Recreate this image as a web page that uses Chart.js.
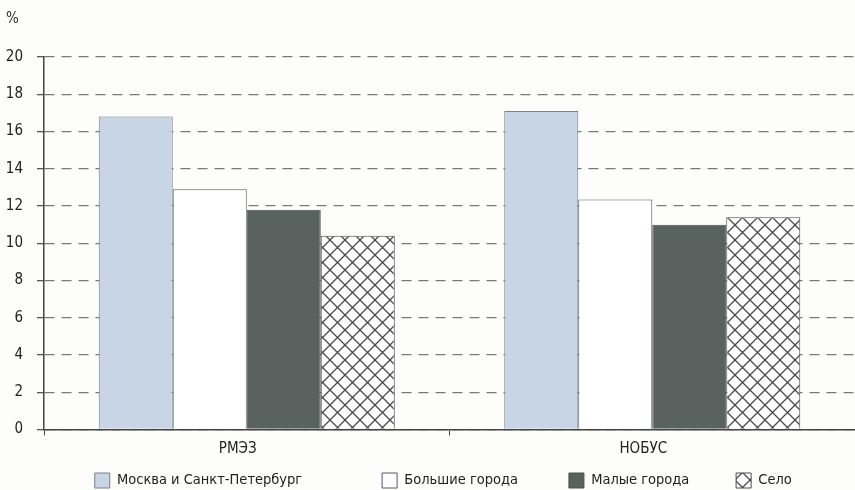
<!DOCTYPE html>
<html>
<head>
<meta charset="utf-8">
<style>
  html, body { margin: 0; padding: 0; background: #fdfdfb; }
  #wrap { width: 855px; height: 490px; }
</style>
</head>
<body>
<div id="wrap"><canvas id="myChart" width="855" height="490"></canvas></div>
<script src="https://cdn.jsdelivr.net/npm/chart.js@4.4.2/dist/chart.umd.min.js"></script>
<script>
// categories and series
const categories = ['РМЭЗ', 'НОБУС'];
const seriesNames = ['Москва и Санкт-Петербург', 'Большие города', 'Малые города', 'Село'];
const moscowSpb = [16.8, 17.1];
const bigCities = [12.9, 12.35];
const smallCities = [11.8, 11.0];
const village = [10.4, 11.4];
const yTicks = [0, 2, 4, 6, 8, 10, 12, 14, 16, 18, 20];

// extra space after each legend entry (the gaps are not even in the original)
const legendGaps = [17, 10, 9, 3];

const FONT = '"Liberation Sans Narrow", "DejaVu Sans Condensed", "Liberation Sans", sans-serif';

// crosshatch fill for "Село"
function hatchPattern() {
    const size = 15;
    const c = document.createElement('canvas');
    c.width = size;
    c.height = size;
    const g = c.getContext('2d');
    g.fillStyle = '#ffffff';
    g.fillRect(0, 0, size, size);
    g.strokeStyle = '#4a4a4a';
    g.lineWidth = 1.3;
    g.beginPath();
    g.moveTo(0, 0); g.lineTo(size, size);
    g.moveTo(size, 0); g.lineTo(0, size);
    g.stroke();
    return g.createPattern(c, 'repeat');
}
const hatch = hatchPattern();

const data = {
    labels: categories,
    datasets: [
        { label: seriesNames[0], data: moscowSpb, backgroundColor: '#c8d5e5', borderColor: '#7d8188', borderWidth: 1 },
        { label: seriesNames[1], data: bigCities, backgroundColor: '#ffffff', borderColor: '#55595e', borderWidth: 1 },
        { label: seriesNames[2], data: smallCities, backgroundColor: '#59625e', borderColor: '#4a514e', borderWidth: 1 },
        { label: seriesNames[3], data: village, backgroundColor: hatch, borderColor: '#4a4a4a', borderWidth: 1 }
    ]
};

const config = {
    type: 'bar',
    data,
    options: {
        responsive: false,
        animation: false,
        layout: { padding: { left: 6, right: 0, top: 0, bottom: -8 } },
        datasets: {
            bar: { categoryPercentage: 0.73, barPercentage: 1.0 }
        },
        plugins: {
            title: {
                display: true,
                text: '%',
                align: 'start',
                color: '#333',
                font: { family: FONT, size: 15, weight: 'normal' },
                padding: { top: 10, bottom: 29 }
            },
            legend: {
                position: 'bottom',
                fullSize: false,
                labels: {
                    color: '#222',
                    font: { family: FONT, size: 14.5 },
                    boxWidth: 15,
                    boxHeight: 15,
                    padding: 9.5,
                    generateLabels: (chart) => {
                        const items = Chart.defaults.plugins.legend.labels.generateLabels(chart);
                        items.forEach((it, i) => { it.text = it.text + ' '.repeat(legendGaps[i]); });
                        return items;
                    }
                }
            },
            tooltip: { enabled: false }
        },
        scales: {
            x: {
                grid: {
                    offset: true,
                    drawOnChartArea: false,
                    drawTicks: true,
                    tickLength: 6,
                    color: '#444'
                },
                border: { color: '#444', width: 1.5 },
                ticks: {
                    color: '#222',
                    font: { family: FONT, size: 15 },
                    padding: 5,
                    labelOffset: -9
                }
            },
            y: {
                min: 0,
                max: 20,
                afterBuildTicks: (axis) => { axis.ticks = yTicks.map(v => ({ value: v })); },
                afterFit: (axis) => { axis.width = 38; },
                grid: {
                    color: '#7a7a7a',
                    lineWidth: 1.3,
                    tickLength: 7,
                    tickColor: '#555',
                    tickBorderDash: []
                },
                border: { color: '#444', width: 1.5, dash: [10, 7] },
                ticks: {
                    color: '#222',
                    font: { family: FONT, size: 15 },
                    padding: 14
                }
            }
        }
    }
};

let myChart = new Chart(document.getElementById('myChart'), config);
</script>
</body>
</html>
